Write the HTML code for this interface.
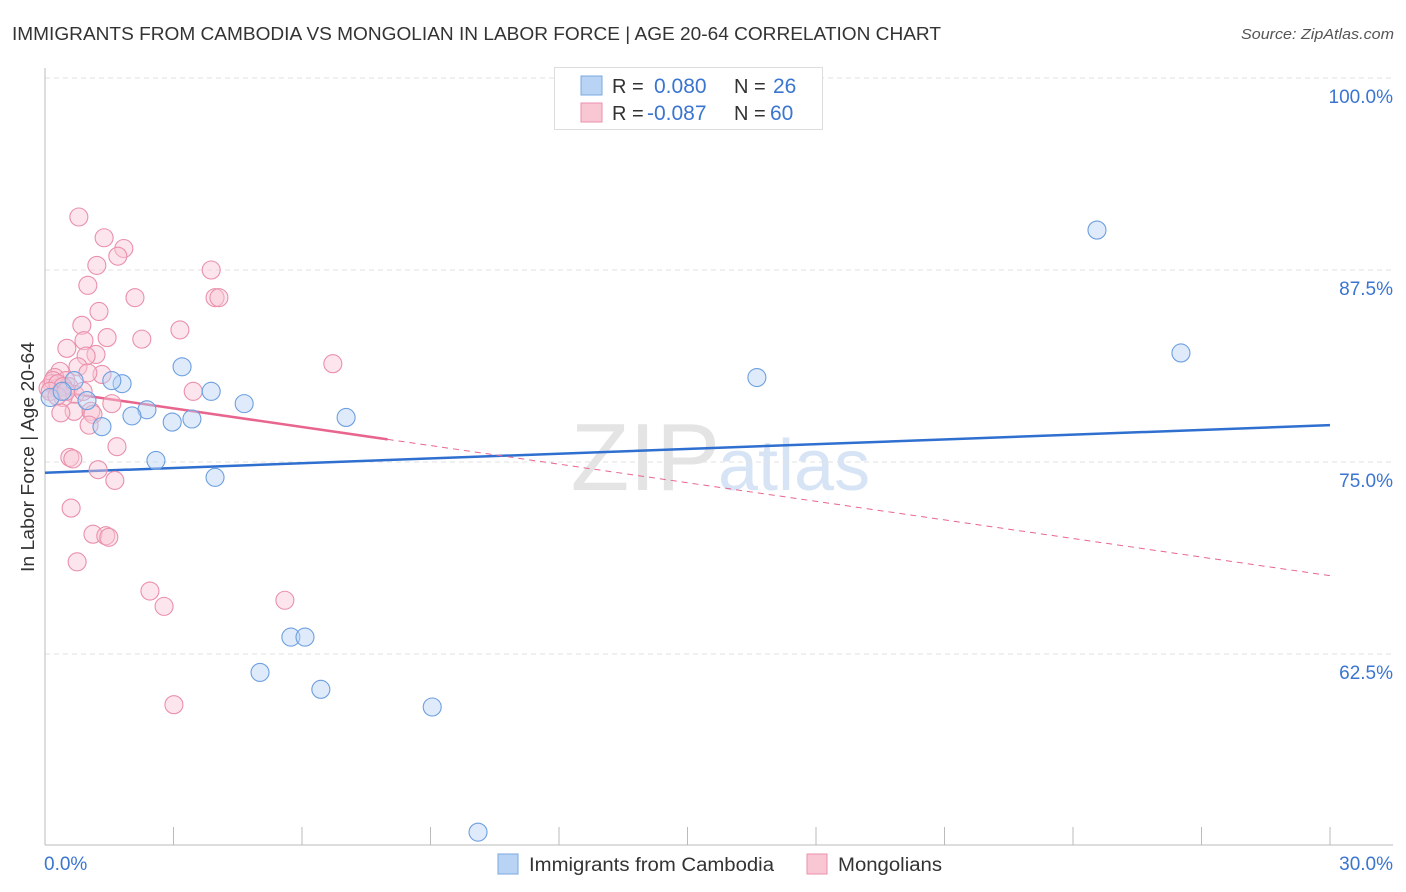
<!DOCTYPE html>
<html><head><meta charset="utf-8"><style>
body{margin:0;background:#fff;font-family:"Liberation Sans",sans-serif;}
#wrap{position:relative;width:1406px;height:892px;overflow:hidden;}
svg text{font-family:"Liberation Sans",sans-serif;}
</style></head><body>
<div id="wrap">
<svg id="chart" width="1406" height="892">
<text x="12" y="40" font-size="18" fill="#333" textLength="929" lengthAdjust="spacingAndGlyphs">IMMIGRANTS FROM CAMBODIA VS MONGOLIAN IN LABOR FORCE | AGE 20-64 CORRELATION CHART</text>
<text x="1394" y="39" font-size="15" fill="#555" font-style="italic" text-anchor="end" textLength="153" lengthAdjust="spacingAndGlyphs">Source: ZipAtlas.com</text>
<text x="720" y="490" font-size="96" fill="#e4e4e4" text-anchor="end" font-family="Liberation Serif">ZIP</text>
<text x="718" y="490" font-size="72" fill="#d6e4f5">atlas</text>
<text transform="translate(34,457) rotate(-90)" font-size="18" fill="#333" text-anchor="middle" textLength="230" lengthAdjust="spacingAndGlyphs">In Labor Force | Age 20-64</text>
<g id="grid"></g><g id="axes"></g><g id="lines"></g><g id="pts"></g>
<g>
<rect x="554.5" y="67.5" width="268" height="62" fill="#fff" stroke="#ddd"/>
<rect x="581" y="76" width="21" height="19" fill="#b8d3f4" stroke="#7aa8e0"/>
<rect x="581" y="103" width="21" height="19" fill="#f9c6d4" stroke="#ea90ab"/>
<text x="612" y="93" font-size="20" fill="#333">R = </text><text x="654" y="93" font-size="21" fill="#3a75d0">0.080</text>
<text x="734" y="93" font-size="20" fill="#333">N = </text><text x="773" y="93" font-size="21" fill="#3a75d0">26</text>
<text x="612" y="120" font-size="20" fill="#333">R = </text><text x="647" y="120" font-size="21" fill="#3a75d0">-0.087</text>
<text x="734" y="120" font-size="20" fill="#333">N = </text><text x="770" y="120" font-size="21" fill="#3a75d0">60</text>
</g>
<g>
<rect x="498" y="854" width="20" height="20" fill="#b8d3f4" stroke="#7aa8e0"/>
<text x="529" y="871" font-size="19" fill="#333" textLength="245" lengthAdjust="spacingAndGlyphs">Immigrants from Cambodia</text>
<rect x="807" y="854" width="20" height="20" fill="#f9c6d4" stroke="#ea90ab"/>
<text x="838" y="871" font-size="19" fill="#333" textLength="104" lengthAdjust="spacingAndGlyphs">Mongolians</text>
</g>
</svg></div>
<script>
const xTicks=[0,3,6,9,12,15,18,21,24,27,30];
const yTickVals=[100,87.5,75,62.5];
const yTickLabels=["100.0%","87.5%","75.0%","62.5%"];
const xEndLabels=["0.0%","30.0%"];
const cambodiaX=[24.56,26.52,16.62,3.20,3.88,1.80,1.56,0.68,0.98,2.38,2.03,2.97,3.43,4.65,7.03,1.33,2.59,3.97,5.74,6.07,5.02,6.44,9.04,10.11,0.12,0.40];
const cambodiaY=[90.1,82.1,80.5,81.2,79.6,80.1,80.3,80.3,79.0,78.4,78.0,77.6,77.8,78.8,77.9,77.3,75.1,74.0,63.6,63.6,61.3,60.2,59.05,50.9,79.2,79.6];
const mongolX=[0.79,1.38,1.84,1.70,1.21,3.88,1.00,2.10,3.97,4.06,1.26,0.86,3.15,0.91,1.45,2.26,0.51,1.19,0.96,6.72,0.77,1.33,0.35,1.00,0.23,0.49,0.16,0.07,0.30,0.56,0.70,0.42,1.56,1.07,1.12,0.68,0.37,1.03,3.46,1.68,0.58,0.65,1.24,1.63,0.61,1.12,1.42,1.49,0.75,2.45,2.78,5.60,3.01,0.19,0.30,0.42,0.12,0.28,0.49,0.89];
const mongolY=[90.95,89.6,88.9,88.4,87.8,87.5,86.5,85.7,85.7,85.7,84.8,83.9,83.6,82.9,83.1,83.0,82.4,82.0,81.9,81.4,81.2,80.7,80.9,80.8,80.5,80.3,80.1,79.8,79.8,79.9,79.4,79.2,78.8,78.3,78.1,78.3,78.2,77.4,79.6,76.0,75.3,75.2,74.5,73.8,72.0,70.3,70.2,70.1,68.5,66.6,65.6,66.0,59.2,80.3,80.1,79.9,79.6,79.3,79.6,79.6];
const cambodiaTrend=[74.3,77.4];
const mongolTrend=[79.7,67.6];
const mongolSolidEnd=8;

const NS="http://www.w3.org/2000/svg";
const X0=45,X1=1330,Y0=78,PX=15.36;
const sx=v=>X0+(v/30)*(X1-X0);
const sy=v=>Y0+(100-v)*PX;
function mk(tag,attrs,parent){const e=document.createElementNS(NS,tag);for(const k in attrs)e.setAttribute(k,attrs[k]);document.getElementById(parent).appendChild(e);return e;}

yTickVals.forEach((v,i)=>{
  const g=mk('line',{x1:X0,x2:1393,y1:sy(v),y2:sy(v),stroke:'#e2e2e2','stroke-dasharray':'5,4'},'grid');
  
  
  const t=mk('text',{x:1393,y:sy(v)+25,'font-size':19,fill:'#3a75d0','text-anchor':'end'},'grid');
  t.textContent=yTickLabels[i];
  
  
});
const ya=mk('line',{x1:X0,x2:X0,y1:68,y2:845,stroke:'#bbb'},'axes');


const xa=mk('line',{x1:X0,x2:1393,y1:845,y2:845,stroke:'#bbb'},'axes');


xTicks.forEach(v=>{
  const t=mk('line',{x1:sx(v),x2:sx(v),y1:827,y2:845,stroke:'#bbb'},'axes');
  
  
});
[[0,'start',44],[30,'end',1393]].forEach((a,i)=>{
  const t=mk('text',{x:a[2],y:870,'font-size':19,fill:'#3a75d0','text-anchor':a[1]},'axes');
  t.textContent=xEndLabels[i];
  
  
});

function pts(xs,ys,fill,stroke,name){
  xs.forEach((x,i)=>{
    const c=mk('circle',{cx:sx(x),cy:sy(ys[i]),r:9,fill:fill,'fill-opacity':0.45,stroke:stroke,'stroke-width':1.1},'pts');
    
    
  });
}
pts(mongolX,mongolY,'#f9c6d4','#ea90ab','mongolian-point');
pts(cambodiaX,cambodiaY,'#b8d3f4','#6d9fe0','cambodia-point');

const my=x=>mongolTrend[0]+(mongolTrend[1]-mongolTrend[0])*x/30;
const l1=mk('line',{x1:sx(0),y1:sy(cambodiaTrend[0]),x2:sx(30),y2:sy(cambodiaTrend[1]),stroke:'#2f6fd0','stroke-width':2.5},'lines');


const l2=mk('line',{x1:sx(0),y1:sy(my(0)),x2:sx(mongolSolidEnd),y2:sy(my(mongolSolidEnd)),stroke:'#e8658e','stroke-width':2.5},'lines');


const l3=mk('line',{x1:sx(mongolSolidEnd),y1:sy(my(mongolSolidEnd)),x2:sx(30),y2:sy(my(30)),stroke:'#e8658e','stroke-width':1,'stroke-dasharray':'6,5'},'lines');


</script>
</body></html>
